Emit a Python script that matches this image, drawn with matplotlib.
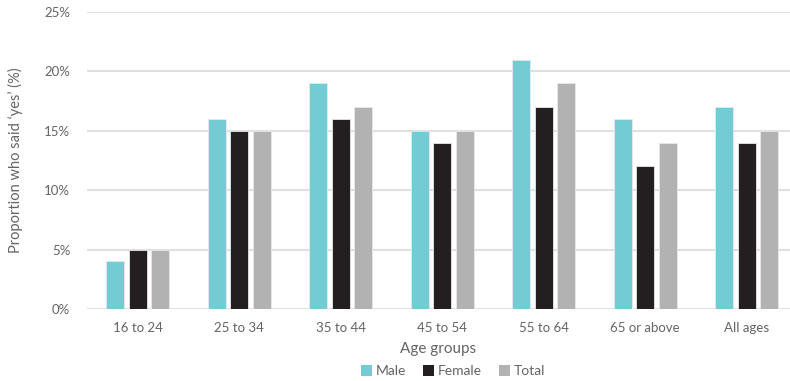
import matplotlib
matplotlib.use("Agg")
import matplotlib.pyplot as plt
import numpy as np
from matplotlib.patches import Patch

plt.rcParams['font.family'] = ['Lato', 'DejaVu Sans']

categories = ["16 to 24", "25 to 34", "35 to 44", "45 to 54", "55 to 64", "65 or above", "All ages"]
male = [4, 16, 19, 15, 21, 16, 17]
female = [5, 15, 16, 14, 17, 12, 14]
total = [5, 15, 17, 15, 19, 14, 15]
series_names = ["Male", "Female", "Total"]
colors = ["#73CBD3", "#231F20", "#B2B2B2"]
yticks = [0, 5, 10, 15, 20, 25]

W, H = 790, 381
fig = plt.figure(figsize=(W / 100, H / 100), dpi=100)
left, right = 87, 790
top, bottom = 12, 309
ax = fig.add_axes([left / W, 1 - bottom / H, (right - left) / W, (bottom - top) / H])

x = np.arange(len(categories))
bw = 0.177
off = 0.222
txt = "#646464"
for i, (vals, c) in enumerate(zip([male, female, total], colors)):
    ax.bar(x + (i - 1) * off, vals, width=bw, color=c, edgecolor="#E8E8E8", linewidth=0.6, zorder=3)

ax.set_xlim(-0.5, (right - left) / 101.5 - 0.5)
ax.set_ylim(0, 25)
ax.set_yticks(yticks)
ax.set_yticklabels([f"{v}%" for v in yticks])
ax.set_xticks(x)
ax.set_xticklabels(categories)
ax.yaxis.grid(True, color="#E0E0E0", linewidth=1.5, zorder=0)
ax.set_axisbelow(True)
for s in ax.spines.values():
    s.set_visible(False)
ax.tick_params(axis="both", length=0, colors=txt, labelsize=9.5)
ax.tick_params(axis="y", pad=12)
ax.tick_params(axis="x", pad=9)

ax.set_ylabel("Proportion who said \u2018yes\u2019 (%)", color=txt, fontsize=10.5, labelpad=15)
ax.set_xlabel("Age groups", color=txt, fontsize=11, labelpad=6)

handles = [Patch(facecolor=c, edgecolor="none") for c in colors]
fig.legend(handles, series_names, loc="center", bbox_to_anchor=(453 / W, 1 - 371 / H),
           ncol=3, frameon=False, fontsize=10, labelcolor=txt,
           handlelength=0.8, handleheight=0.8, handletextpad=0.3, columnspacing=1.2)

fig.savefig("out.png", dpi=100, facecolor="white")
